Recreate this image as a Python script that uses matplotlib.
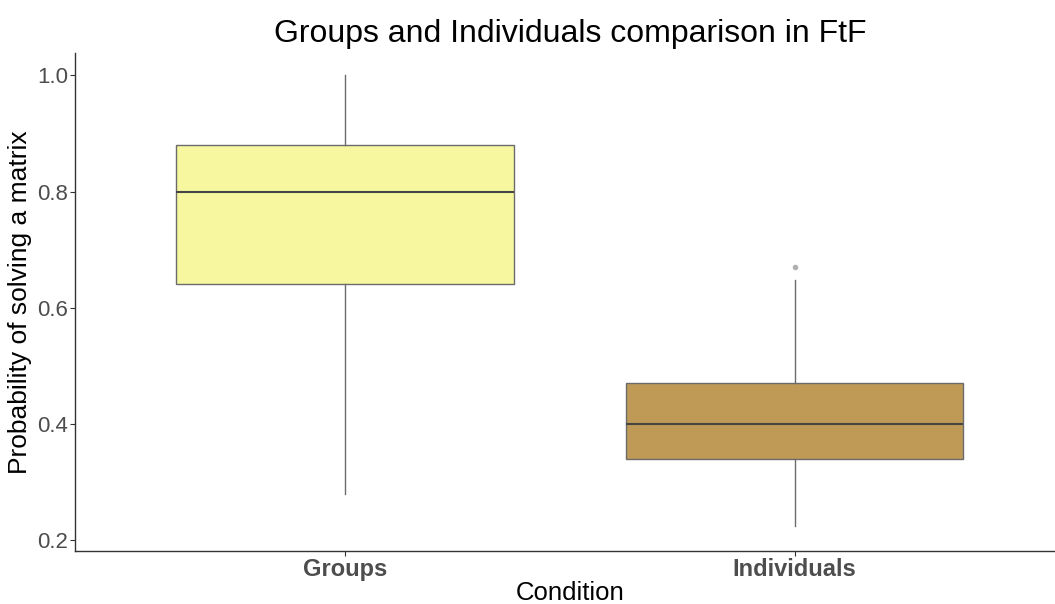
import matplotlib.pyplot as plt

plt.rcParams['font.family'] = ['Liberation Sans', 'DejaVu Sans']

# box statistics
conditions = ["Groups", "Individuals"]
whisker_low = [0.28, 0.224]
q1 = [0.64, 0.34]
median = [0.80, 0.40]
q3 = [0.88, 0.47]
whisker_high = [1.00, 0.648]
outliers = [[], [0.67]]
fills = ["#F6F79E", "#BF9A57"]

stats = []
for i, name in enumerate(conditions):
    stats.append({"label": name, "whislo": whisker_low[i], "q1": q1[i],
                  "med": median[i], "q3": q3[i], "whishi": whisker_high[i],
                  "fliers": outliers[i]})

fig = plt.figure(figsize=(10.55, 6.04), dpi=100)
ax = fig.add_axes([0.0711, 0.0877, 0.938, 0.825])

bp = ax.bxp(stats, positions=[1, 2], widths=0.75, patch_artist=True,
            showcaps=False,
            boxprops=dict(edgecolor="#6b6b6b", linewidth=1.0),
            medianprops=dict(color="#454545", linewidth=1.5),
            whiskerprops=dict(color="#6b6b6b", linewidth=1.0),
            flierprops=dict(marker="o", markersize=3, markerfacecolor="#b0b0b0",
                            markeredgecolor="#b0b0b0"))
for patch, c in zip(bp["boxes"], fills):
    patch.set_facecolor(c)

ax.set_xlim(0.4, 2.6)
ax.set_ylim(0.181, 1.039)
ax.set_yticks([0.2, 0.4, 0.6, 0.8, 1.0])
ax.set_yticklabels(["0.2", "0.4", "0.6", "0.8", "1.0"])
ax.set_xticks([1, 2])
ax.set_xticklabels(conditions, fontsize=17, fontweight="bold", color="#4d4d4d")
ax.tick_params(axis="y", labelsize=16, labelcolor="#4d4d4d", color="#333333",
               length=3.5, pad=1.5)
ax.tick_params(axis="x", color="#333333", length=3.5, pad=1.5)

for s in ["top", "right"]:
    ax.spines[s].set_visible(False)
for s in ["left", "bottom"]:
    ax.spines[s].set_color("#333333")
    ax.spines[s].set_linewidth(1.0)

ax.set_title("Groups and Individuals comparison in FtF", fontsize=23, pad=8)
ax.set_xlabel("Condition", fontsize=18.5, labelpad=0)
ax.set_ylabel("Probability of solving a matrix", fontsize=19, labelpad=4)

fig.savefig("out.png", dpi=100)
